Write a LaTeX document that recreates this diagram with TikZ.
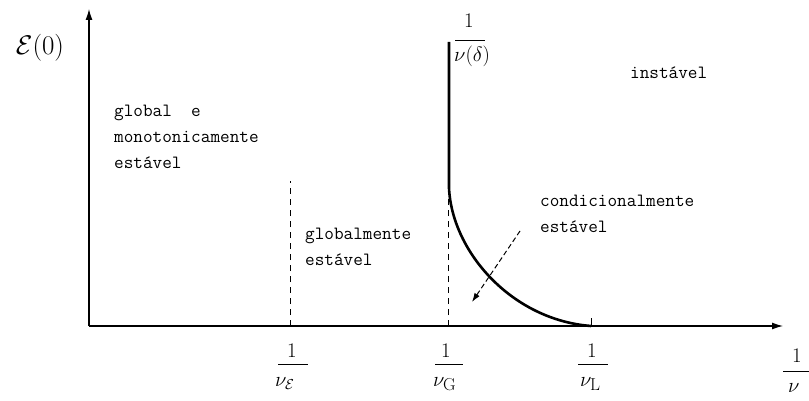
\documentclass[tikz,border=0pt]{standalone}
\usepackage{amsmath}
\usepackage{fontspec}
\usetikzlibrary{arrows.meta}
\begin{document}
\begin{tikzpicture}[x=1pt,y=-1pt,
  lbl/.style={font=\fontsize{18.7}{22}\selectfont\ttfamily, anchor=base west, inner sep=0},
  num/.style={font=\huge, anchor=base, inner sep=0},
  den/.style={font=\huge, anchor=base west, inner sep=0},
  fbar/.style={line width=0.9pt},
  axis/.style={line width=1.2pt, -{Latex[length=11pt,width=7pt]}},
  guide/.style={dash pattern=on 6pt off 5pt, line width=1pt},
  curve/.style={line width=2.6pt}
]
\useasboundingbox (0,0) rectangle (809,401);
\coordinate (O) at (89,326);
\coordinate (Ytop) at (89,9);
\coordinate (Xend) at (783,326);
\draw[axis] (O) -- (Ytop);
\draw[axis] (O) -- (Xend);

\node[font=\huge, inner sep=0, scale=1.3] (ylab) at (40,48) {$\mathcal{E}(0)$};

% dashed guides
\coordinate (E0) at (290,326);
\coordinate (E1) at (290,181);
\coordinate (G0) at (448,326);
\coordinate (G1) at (448,188);
\draw[guide] (E0) -- (E1);
\draw[guide] (G0) -- (G1);

% stability boundary
\coordinate (Top) at (449,42);
\coordinate (Knee) at (449,188);
\coordinate (L) at (591,326);
\draw[curve] (Top) -- (Knee) .. controls (452,252) and (512,320) .. (L);
\coordinate (Lt) at (591,318);
\draw[line width=1pt] (L) -- (Lt);

% arrow
\coordinate (A0) at (520,231);
\coordinate (A1) at (472,302);
\draw[guide, dash pattern=on 5pt off 3pt, -{Latex[length=9pt,width=6pt]}] (A0) -- (A1);

% text
\node[lbl] (t1) at (114,117) {global\ \ e};
\node[lbl] (t2) at (114,143) {monotonicamente};
\node[lbl] (t3) at (114,169) {estável};
\node[lbl] (t4) at (305,239) {globalmente};
\node[lbl] (t5) at (305,265) {estável};
\node[lbl] (t6) at (540,207) {condicionalmente};
\node[lbl] (t7) at (540,233) {estável};
\node[lbl] (t8) at (630,79) {instável};

% 1/nu(delta)
\node[num] (fdn) at (469,28) {1};
\draw[fbar] (455,40) -- (485,40);
\node[den] (fdd) at (454,62) {$\nu(\delta)$};
% 1/nu_E
\node[num] (fen) at (292,357) {1};
\draw[fbar] (278,364) -- (308,364);
\node[den] (fed) at (275,386) {$\nu_{\mathcal{E}}$};
% 1/nu_G
\node[num] (fgn) at (446,357) {1};
\draw[fbar] (435,364) -- (463,364);
\node[den] (fgd) at (433,386) {$\nu_{\text{\LARGE G}}$};
% 1/nu_L
\node[num] (fln) at (592,357) {1};
\draw[fbar] (578,364) -- (608,364);
\node[den] (fld) at (580,386) {$\nu_{\text{\LARGE L}}$};
% 1/nu
\node[num] (fxn) at (797,362) {1};
\draw[fbar] (783,371) -- (809,371);
\node[den] (fxd) at (788,392) {$\nu$};
\end{tikzpicture}
\end{document}
